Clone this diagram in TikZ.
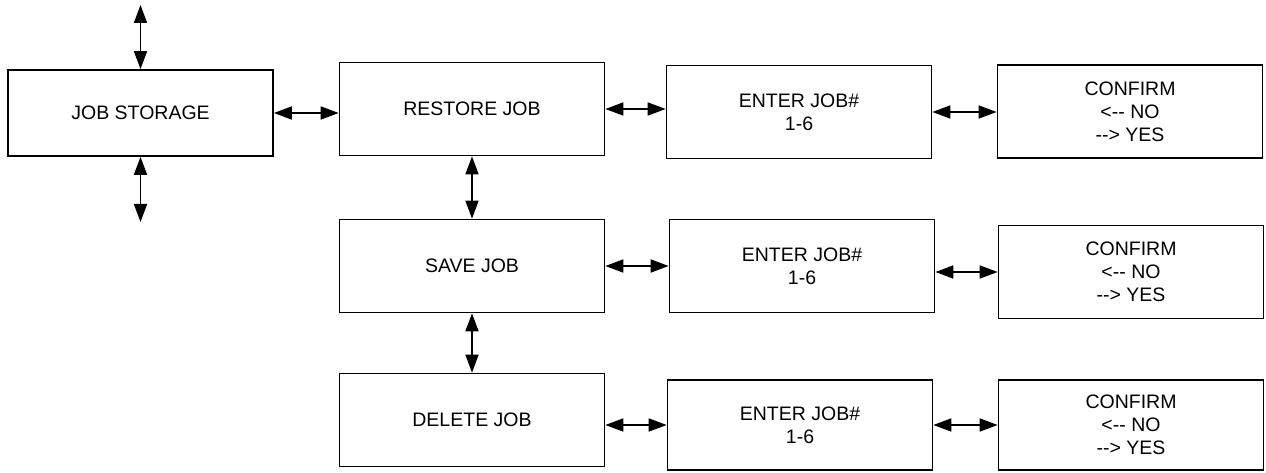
\documentclass[tikz,border=0pt]{standalone}
\usepackage{fontspec}
\setmainfont{Liberation Sans}
\usetikzlibrary{arrows.meta}

\begin{document}
\begin{tikzpicture}
[x=1pt,y=-1pt,inner sep=0pt,line width=1.7pt,
menu/.style={rectangle,draw=black,minimum width=265pt,minimum height=93pt,align=center,font=\fontsize{19.5}{23}\selectfont},
link/.style={{Triangle[length=18pt,width=13pt]}-{Triangle[length=18pt,width=13pt]}}]
\useasboundingbox (0,0) rectangle (1266,473);
\node (store) at (140.5,113) [menu,minimum height=86pt] {JOB STORAGE};
\node (restore) at (472,109) [menu] {RESTORE JOB};
\node (enterA) at (799,112) [menu] {ENTER JOB\#\\1-6};
\node (confirmA) at (1130,111.5) [menu] {CONFIRM\\<-{}- NO\\-{}-> YES};
\node (save) at (472,266) [menu] {SAVE JOB};
\node (enterB) at (802,266) [menu] {ENTER JOB\#\\1-6};
\node (confirmB) at (1131,272) [menu] {CONFIRM\\<-{}- NO\\-{}-> YES};
\node (delete) at (472,420) [menu] {DELETE JOB};
\node (enterC) at (800,425) [menu,minimum height=90pt] {ENTER JOB\#\\1-6};
\node (confirmC) at (1131,425) [menu,minimum height=90pt] {CONFIRM\\<-{}- NO\\-{}-> YES};
\coordinate (up) at (140.5,5);
\coordinate (down) at (140.5,222);
% way in and way out
\draw [link] (up) -- (store.north);
\draw [link] (store.south) -- (down);
\draw [link] (store.east) -- (store.east -| restore.west);
% the three menus
\draw [link] (restore.south) -- (save.north);
\draw [link] (save.south) -- (delete.north);
\draw [link] (restore.east) -- (restore.east -| enterA.west);
\draw [link] (enterA.east) -- (enterA.east -| confirmA.west);
\draw [link] (save.east) -- (save.east -| enterB.west);
\draw [link] (enterB.east |- confirmB.west) -- (confirmB.west);
\draw [link] (delete.east |- enterC.west) -- (enterC.west);
\draw [link] (enterC.east) -- (enterC.east -| confirmC.west);
\end{tikzpicture}
\end{document}
